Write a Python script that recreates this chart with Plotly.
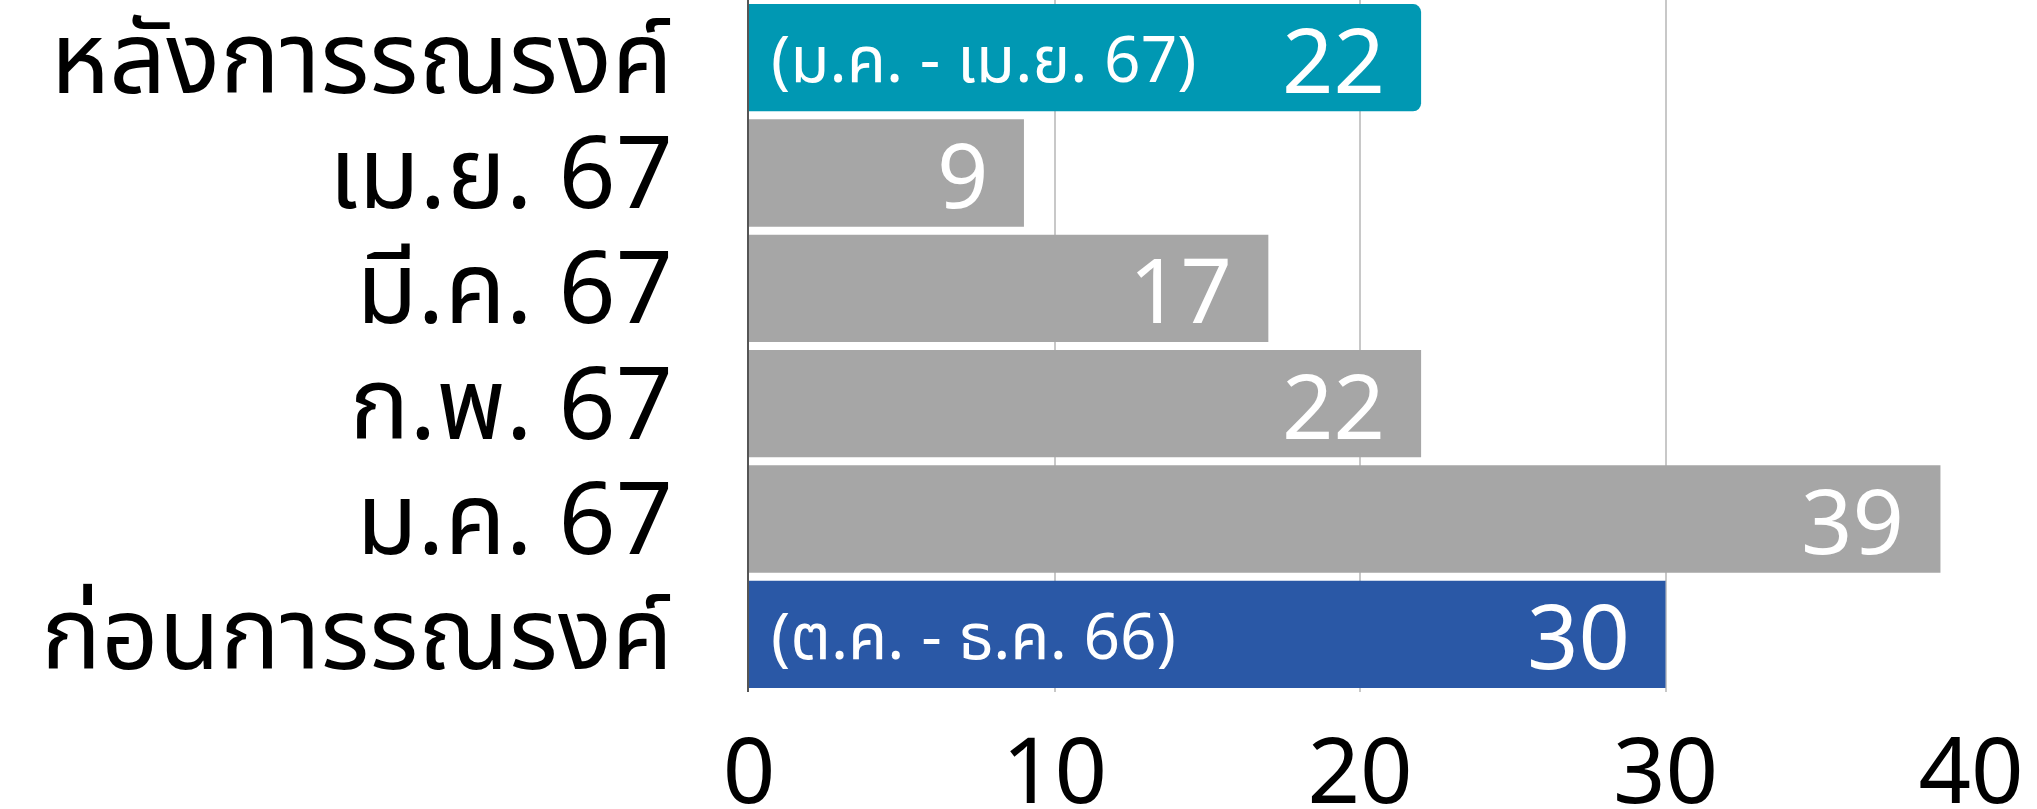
import plotly.graph_objects as go

categories = ["ก่อนการรณรงค์", "ม.ค. 67", "ก.พ. 67", "มี.ค. 67", "เม.ย. 67", "หลังการรณรงค์"]
values = [30, 39, 22, 17, 9, 22]
bar_colors = ["#2A58A6", "#A6A6A6", "#A6A6A6", "#A6A6A6", "#A6A6A6", "#0098B3"]
period_labels = {"ก่อนการรณรงค์": "(ต.ค. - ธ.ค. 66)", "หลังการรณรงค์": "(ม.ค. - เม.ย. 67)"}
x_ticks = [0, 10, 20, 30, 40]

FONT = "Noto Sans, Noto Sans Thai, DejaVu Sans, sans-serif"

fig = go.Figure()
for c, v, col in zip(categories, values, bar_colors):
    fig.add_trace(go.Bar(
        y=[c], x=[v], orientation="h",
        marker=dict(color=col, line=dict(width=0),
                    cornerradius=8 if c == "หลังการรณรงค์" else 0),
        width=0.93, showlegend=False, hoverinfo="skip",
    ))

annotations = []
for c, v in zip(categories, values):
    annotations.append(dict(
        x=v, y=c, xref="x", yref="y", text=str(v), showarrow=False,
        xanchor="right", yanchor="middle", xshift=-34,
        font=dict(family=FONT, size=90, color="white"),
    ))
    if c in period_labels:
        annotations.append(dict(
            x=0, y=c, xref="x", yref="y", text=period_labels[c], showarrow=False,
            xanchor="left", yanchor="middle", xshift=20,
            font=dict(family=FONT, size=64, color="white"),
        ))

fig.update_layout(
    width=2037, height=809,
    margin=dict(l=749, r=66, t=0, b=117),
    plot_bgcolor="white", paper_bgcolor="white",
    annotations=annotations,
    font=dict(family=FONT, color="black"),
    hovermode=False,
)
fig.update_xaxes(
    range=[0, 40], tickmode="array", tickvals=x_ticks, ticktext=[str(t) for t in x_ticks],
    showgrid=True, gridcolor="#C8C8C8", gridwidth=2,
    zeroline=False, showline=False, automargin=False,
    tickfont=dict(family=FONT, size=92, color="black"),
    ticks="", ticklabelstandoff=18,
)
fig.update_yaxes(
    categoryorder="array", categoryarray=categories,
    tickmode="array", tickvals=categories, ticktext=categories,
    range=[-0.5, 5.5], automargin=False,
    tickfont=dict(family=FONT, size=100, color="black"),
    ticks="", ticklabelstandoff=54,
    showline=True, linecolor="#555555", linewidth=2,
    showgrid=False,
)

fig.write_html("out.html", config={"displayModeBar": False},
               post_script="document.body.style.margin='0';")
